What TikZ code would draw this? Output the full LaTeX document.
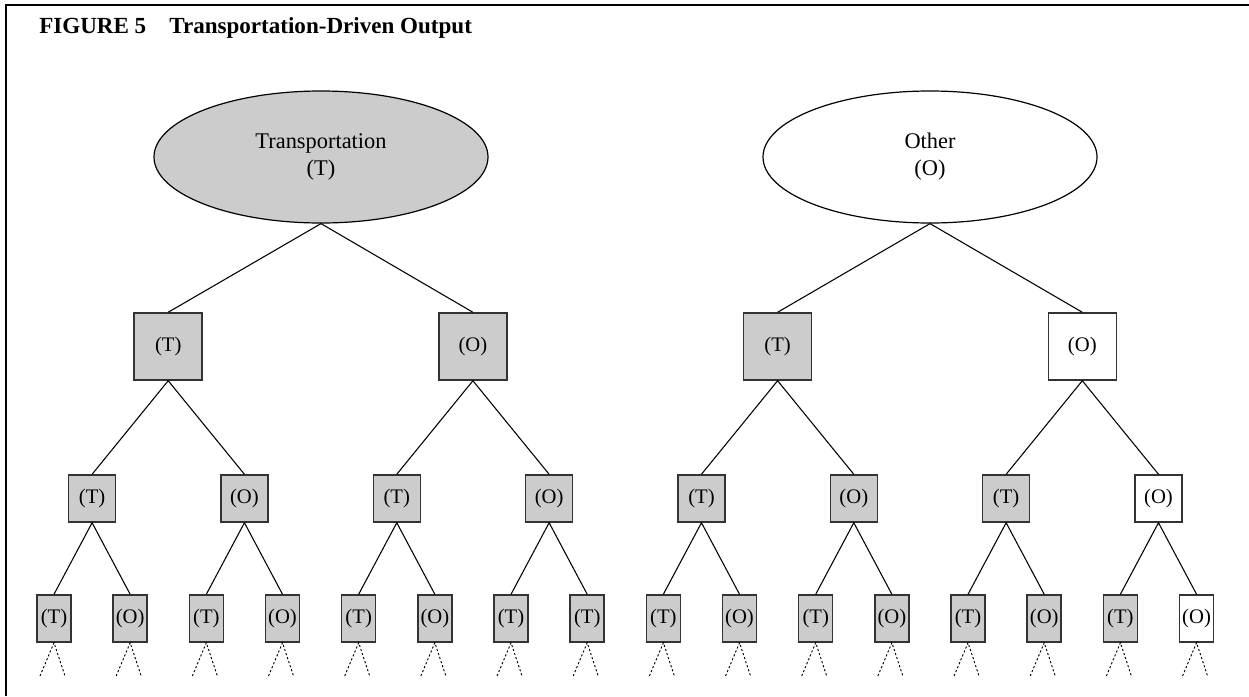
\documentclass[tikz,border=0pt]{standalone}
\usepackage{fontspec}
\setmainfont{Liberation Serif}
\usetikzlibrary{shapes.geometric}
\definecolor{tshade}{HTML}{CCCCCC}
\definecolor{boxline}{HTML}{333333}

\begin{document}
\begin{tikzpicture}[x=0.75pt,y=-0.75pt,font=\fontsize{15.5}{20}\selectfont,
  root/.style={ellipse,draw=black,line width=0.9pt,minimum width=250.5pt,
    minimum height=99pt,inner sep=0pt,align=center,
    font=\fontsize{16.8}{20.25}\selectfont},
  bigbox/.style={rectangle,draw=boxline,line width=1.1pt,minimum width=51pt,
    minimum height=50.25pt,inner sep=0pt},
  midbox/.style={bigbox,minimum width=35.25pt,minimum height=35.25pt},
  leafbox/.style={bigbox,minimum width=25.5pt,minimum height=35.25pt},
  tfill/.style={fill=tshade},
  ofill/.style={fill=white},
  link/.style={draw=black,line width=0.8pt},
  stub/.style={draw=black,line width=0.7pt,dash pattern=on 1.6pt off 1.6pt}]
\path[use as bounding box] (0,0) rectangle (1249,696);
\draw[line width=1.2pt] (6,696) -- (6,5) -- (1249,5);
\node[anchor=base west,inner sep=0pt,font=\fontsize{17.3}{20}\selectfont\bfseries] (title) at (39,33)
  {FIGURE 5\quad Transportation-Driven Output};
% the two roots
\node[root,tfill] (rt) at (321,157) {Transportation\\(T)};
\node[root,ofill] (ro) at (930,157) {Other\\(O)};
% first level
\foreach \lab/\fl [count=\i from 0] in {T/tfill,O/tfill,T/tfill,O/ofill}
  \node[bigbox,\fl] (a\i) at ({168.2+304.7*\i},346.5) {(\lab)};
% second level
\foreach \lab/\fl [count=\i from 0] in {T/tfill,O/tfill,T/tfill,O/tfill,T/tfill,O/tfill,T/tfill,O/ofill}
  \node[midbox,\fl] (b\i) at ({92.1+152.34*\i},498.5) {(\lab)};
% leaves
\foreach \lab/\fl [count=\i from 0] in {T/tfill,O/tfill,T/tfill,O/tfill,T/tfill,O/tfill,T/tfill,T/tfill,
    T/tfill,O/tfill,T/tfill,O/tfill,T/tfill,O/tfill,T/tfill,O/ofill}
  \node[leafbox,\fl] (c\i) at ({54+76.17*\i},618.5) {(\lab)};
% connectors
\draw[link] (a0.north) -- (rt.south) -- (a1.north);
\draw[link] (a2.north) -- (ro.south) -- (a3.north);
\foreach \i in {0,...,3} {
  \pgfmathtruncatemacro\l{2*\i}
  \pgfmathtruncatemacro\r{2*\i+1}
  \draw[link] (b\l.north) -- (a\i.south) -- (b\r.north);
}
\foreach \i in {0,...,7} {
  \pgfmathtruncatemacro\l{2*\i}
  \pgfmathtruncatemacro\r{2*\i+1}
  \draw[link] (c\l.north) -- (b\i.south) -- (c\r.north);
}
% open ends below the leaves
\foreach \i in {0,...,15} {
  \coordinate (sl\i) at ({54+76.17*\i-14},676);
  \coordinate (sr\i) at ({54+76.17*\i+11},676);
  \draw[stub] (sl\i) -- (c\i.south) -- (sr\i);
}
\end{tikzpicture}
\end{document}
